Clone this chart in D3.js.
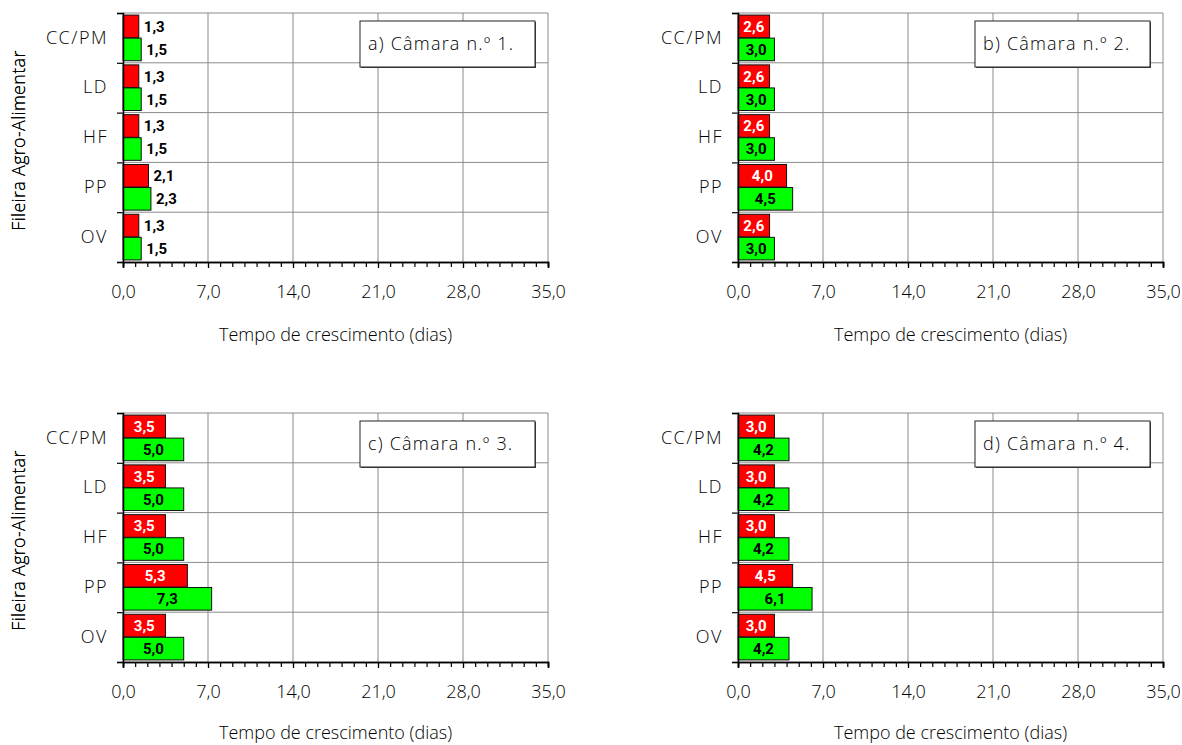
<!DOCTYPE html>
<html><head><meta charset="utf-8">
<script src="https://cdn.jsdelivr.net/npm/d3@7"></script>
<style>
body{margin:0;background:#fff;}
svg{display:block;}
text{font-family:"Open Sans","DejaVu Sans",sans-serif;font-weight:300;fill:#000;}
</style></head>
<body>
<svg id="chart" width="1182" height="745"></svg>
<script>
const categories = ["CC/PM","LD","HF","PP","OV"];
const panelTitles = ["a) Câmara n.º 1.","b) Câmara n.º 2.","c) Câmara n.º 3.","d) Câmara n.º 4."];
const redA = [1.3,1.3,1.3,2.1,1.3];
const greenA = [1.5,1.5,1.5,2.3,1.5];
const redB = [2.6,2.6,2.6,4.0,2.6];
const greenB = [3.0,3.0,3.0,4.5,3.0];
const redC = [3.5,3.5,3.5,5.3,3.5];
const greenC = [5.0,5.0,5.0,7.3,5.0];
const redD = [3.0,3.0,3.0,4.5,3.0];
const greenD = [4.2,4.2,4.2,6.1,4.2];
const xTicks = [0,7,14,21,28,35];
const xTitle = "Tempo de crescimento (dias)";
const yTitle = "Fileira Agro-Alimentar";

const panels = [
  {red:redA, green:greenA, title:panelTitles[0], left:123, top:13, inside:false, titleDy:79},
  {red:redB, green:greenB, title:panelTitles[1], left:738, top:13, inside:true, titleDy:79},
  {red:redC, green:greenC, title:panelTitles[2], left:123, top:413, inside:true, titleDy:77},
  {red:redD, green:greenD, title:panelTitles[3], left:738, top:413, inside:true, titleDy:77}
];
const W = 425, H = 249;
const fmt = v => d3.format(".1f")(v).replace(".", ",");
const svg = d3.select("#chart");

panels.forEach(p => {
  const g = svg.append("g").attr("transform", `translate(${p.left},${p.top})`);
  const x = d3.scaleLinear().domain([0,35]).range([0,W]);
  const y = d3.scaleBand().domain(categories).range([0,H]).padding(0);
  const sub = d3.scaleBand().domain(["r","g"]).range([0,y.bandwidth()]).paddingOuter(0.09).paddingInner(0.02);
  const yb = d3.scaleLinear().domain([0,categories.length]).range([0,H]);

  // gridlines
  g.append("g").selectAll("line.v").data(xTicks.slice(1)).join("line")
    .attr("x1", d=>x(d)).attr("x2", d=>x(d)).attr("y1",0).attr("y2",H)
    .attr("stroke","#8a8a8a").attr("stroke-width",1);
  g.append("g").selectAll("line.h").data(d3.range(0,categories.length)).join("line")
    .attr("x1",0).attr("x2",W).attr("y1", d=>yb(d)).attr("y2", d=>yb(d))
    .attr("stroke","#8a8a8a").attr("stroke-width",1);

  // bars
  const rows = categories.map((c,i)=>({c, r:p.red[i], gr:p.green[i]}));
  const series = [];
  rows.forEach(d => { series.push({c:d.c, k:"r", v:d.r}); series.push({c:d.c, k:"g", v:d.gr}); });
  g.append("g").selectAll("rect").data(series).join("rect")
    .attr("x", x(0)).attr("y", d=>y(d.c)+sub(d.k))
    .attr("width", d=>x(d.v)-x(0)).attr("height", sub.bandwidth())
    .attr("fill", d=>d.k==="r" ? "#ff0000" : "#00ff00")
    .attr("stroke","#111").attr("stroke-width",1);

  // value labels
  g.append("g").selectAll("text").data(series).join("text")
    .attr("x", d=> p.inside ? x(d.v)/2 : x(d.v)+5)
    .attr("y", d=>y(d.c)+sub(d.k)+sub.bandwidth()/2)
    .attr("dy","0.36em")
    .attr("text-anchor", p.inside ? "middle" : "start")
    .style("font-family","Roboto, sans-serif").style("font-weight","bold").style("font-size","15px")
    .style("fill", d=> p.inside ? (d.k==="r" ? "#ffffff" : "#000000") : "#000000")
    .text(d=>fmt(d.v));

  // axes
  const xMinor = g.append("g").attr("transform",`translate(0,${H})`)
    .call(d3.axisBottom(x).tickValues(d3.range(0,36)).tickSize(5).tickFormat(""));
  const xMajor = g.append("g").attr("transform",`translate(0,${H})`)
    .call(d3.axisBottom(x).tickValues(xTicks).tickSize(6).tickPadding(17).tickFormat(fmt));
  [xMinor,xMajor].forEach(a=>{
    a.select(".domain").attr("stroke","#000").attr("stroke-width",1.5);
    a.selectAll(".tick line").attr("stroke","#000").attr("stroke-width",1.2);
  });
  xMajor.selectAll(".tick text").style("font-size","18px").style("font-family","'Open Sans', sans-serif").style("font-weight","300").attr("fill","#000");

  const yTicksAx = g.append("g").call(d3.axisLeft(yb).tickValues(d3.range(0,categories.length+1)).tickSize(6).tickFormat(""));
  yTicksAx.select(".domain").attr("stroke","#000").attr("stroke-width",1.5);
  yTicksAx.selectAll(".tick line").attr("stroke","#000").attr("stroke-width",1.2);
  const yLab = g.append("g").call(d3.axisLeft(y).tickSize(0).tickPadding(15));
  yLab.select(".domain").remove();
  yLab.selectAll(".tick text").style("font-size","18px").style("letter-spacing","1.5px")
    .style("font-family","'Open Sans', sans-serif").style("font-weight","300").attr("fill","#000");

  // axis titles
  g.append("text").attr("x", W/2).attr("y", H+p.titleDy).attr("text-anchor","middle")
    .style("font-size","18px").text(xTitle);
  g.append("text").attr("transform",`translate(${-p.left+25},${H/2+3}) rotate(-90)`)
    .attr("text-anchor","middle").style("font-size","18px").style("letter-spacing","0.3px").text(yTitle);

  // title box
  const bw = 175, bh = 46, bx = W-13-bw, by = 8;
  g.append("rect").attr("x",bx+1).attr("y",by+1).attr("width",bw).attr("height",bh).attr("fill","#444");
  g.append("rect").attr("x",bx).attr("y",by).attr("width",bw).attr("height",bh)
    .attr("fill","#fff").attr("stroke","#222").attr("stroke-width",1);
  g.append("text").attr("x",bx+8).attr("y",by+bh/2).attr("dy","0.36em")
    .style("font-size","18px").style("letter-spacing","1.2px").text(p.title);
});
</script>
</body></html>
